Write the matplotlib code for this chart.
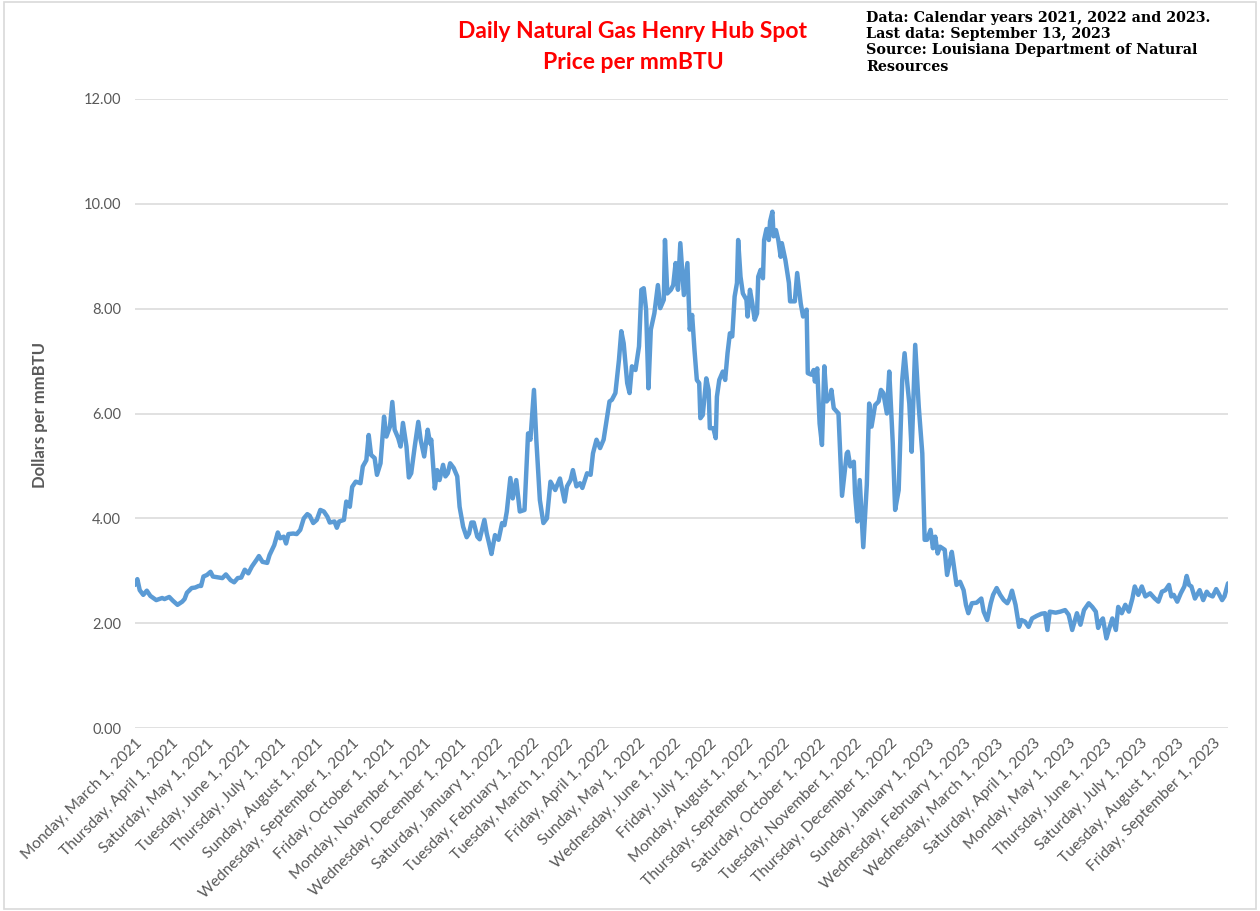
import numpy as np
import pandas as pd
import matplotlib
matplotlib.use("Agg")
import matplotlib.pyplot as plt
from matplotlib.ticker import FormatStrFormatter
from matplotlib.patches import Rectangle

# ---------------- data ----------------
start_date = "2021-03-01"
end_date = "2023-09-13"

# days after start_date
day_offsets = [
    0, 2, 4, 7, 10, 13, 18, 23, 25, 29, 32, 36, 40, 42, 44, 48, 51, 54, 56, 58,
    61, 64, 66, 71, 74, 77, 81, 84, 87, 90, 93, 96, 99, 103, 105, 108, 112, 114, 118, 121,
    123, 126, 128, 130, 134, 137, 140, 143, 146, 148, 151, 154, 157, 160, 163, 165, 169, 171, 173, 177,
    179, 182, 184, 187, 191, 193, 196, 198, 200, 203, 205, 208, 211, 213, 216, 218, 220, 223, 225, 227,
    230, 232, 234, 237, 240, 242, 245, 248, 250, 251, 254, 256, 258, 261, 263, 265, 267, 270, 273, 275,
    278, 281, 283, 285, 287, 290, 292, 296, 298, 300, 302, 305, 308, 311, 313, 315, 318, 320, 323, 326,
    330, 333, 335, 338, 340, 343, 346, 349, 352, 356, 360, 364, 366, 369, 371, 374, 377, 379, 383, 386,
    388, 391, 394, 397, 400, 402, 404, 407, 410, 412, 414, 417, 419, 421, 424, 427, 429, 431, 433, 435,
    437, 440, 443, 445, 448, 449, 451, 454, 456, 458, 460, 462, 465, 468, 470, 472, 474, 476, 478, 479,
    481, 484, 486, 487, 490, 492, 493, 495, 498, 500, 502, 504, 506, 508, 510, 511, 513, 515, 518, 519,
    521, 523, 525, 527, 528, 530, 532, 533, 535, 537, 538, 540, 541, 543, 545, 547, 548, 551, 554, 555,
    559, 561, 564, 566, 569, 570, 573, 575, 576, 578, 580, 582, 584, 586, 589, 590, 592, 596, 599, 603,
    604, 606, 609, 610, 612, 614, 617, 620, 622, 624, 627, 630, 632, 634, 637, 639, 642, 644, 647, 650,
    652, 654, 656, 658, 661, 664, 667, 669, 671, 674, 676, 678, 680, 682, 686, 688, 692, 693, 696, 699,
    702, 704, 706, 709, 713, 717, 719, 722, 725, 727, 730, 733, 736, 739, 741, 743, 746, 749, 751, 754,
    757, 760, 764, 768, 771, 773, 775, 780, 784, 788, 791, 794, 798, 801, 804, 808, 811, 814, 816, 818,
    820, 823, 825, 828, 831, 833, 836, 839, 842, 845, 847, 850, 853, 856, 860, 864, 867, 870, 873, 876,
    878, 880, 883, 886, 889, 891, 893, 895, 898, 902, 905, 908, 910, 913, 916, 918, 921, 923, 926,
]

# dollars per mmBTU
prices = [
    2.73, 2.84, 2.63, 2.54, 2.62, 2.52, 2.44, 2.48, 2.46, 2.50, 2.43, 2.35, 2.41, 2.46, 2.58, 2.67, 2.68, 2.71, 2.71, 2.89,
    2.92, 2.98, 2.89, 2.87, 2.86, 2.93, 2.82, 2.78, 2.86, 2.87, 3.02, 2.95, 3.08, 3.21, 3.28, 3.17, 3.15, 3.30, 3.49, 3.73,
    3.62, 3.65, 3.52, 3.70, 3.71, 3.70, 3.78, 4.00, 4.08, 4.05, 3.91, 3.97, 4.16, 4.13, 4.03, 3.92, 3.94, 3.82, 3.94, 3.97,
    4.32, 4.22, 4.60, 4.70, 4.67, 4.99, 5.11, 5.59, 5.21, 5.15, 4.83, 5.05, 5.94, 5.56, 5.75, 6.22, 5.69, 5.53, 5.37, 5.82,
    5.37, 4.78, 4.86, 5.37, 5.84, 5.50, 5.18, 5.69, 5.43, 5.50, 4.57, 4.92, 4.73, 5.02, 4.80, 4.86, 5.05, 4.96, 4.80, 4.22,
    3.84, 3.64, 3.71, 3.92, 3.92, 3.65, 3.60, 3.97, 3.71, 3.52, 3.32, 3.68, 3.59, 3.91, 3.87, 4.13, 4.77, 4.38, 4.73, 4.13,
    4.16, 5.62, 5.50, 6.45, 5.50, 4.35, 3.91, 4.00, 4.70, 4.54, 4.76, 4.32, 4.61, 4.73, 4.92, 4.61, 4.67, 4.58, 4.86, 4.83,
    5.24, 5.50, 5.34, 5.50, 5.94, 6.23, 6.26, 6.39, 7.02, 7.57, 7.34, 6.58, 6.39, 6.90, 6.83, 7.28, 8.36, 8.39, 7.98, 6.48,
    7.60, 7.91, 8.45, 8.01, 8.17, 9.31, 8.29, 8.36, 8.45, 8.87, 8.36, 9.25, 8.26, 8.87, 7.60, 7.88, 7.21, 6.64, 6.58, 5.91,
    5.97, 6.67, 6.45, 5.72, 5.72, 5.53, 6.32, 6.64, 6.80, 6.64, 7.15, 7.53, 7.47, 8.23, 8.49, 9.31, 8.61, 8.29, 8.17, 7.85,
    8.36, 8.10, 7.79, 7.91, 8.61, 8.74, 8.58, 9.31, 9.52, 9.31, 9.66, 9.85, 9.38, 9.50, 9.31, 8.99, 9.25, 8.93, 8.49, 8.14,
    8.14, 8.68, 8.10, 7.85, 7.98, 6.77, 6.74, 6.83, 6.61, 6.86, 5.81, 5.40, 6.90, 6.23, 6.32, 6.45, 6.10, 6.00, 4.43, 5.24,
    5.27, 4.99, 5.08, 4.48, 3.94, 4.73, 3.45, 4.64, 6.19, 5.75, 6.16, 6.23, 6.45, 6.39, 6.00, 6.80, 5.43, 4.16, 4.54, 6.64,
    7.15, 6.64, 6.19, 5.27, 7.31, 6.13, 5.24, 3.59, 3.59, 3.78, 3.43, 3.65, 3.33, 3.46, 3.40, 2.92, 3.36, 3.21, 2.73, 2.79,
    2.63, 2.35, 2.19, 2.38, 2.39, 2.47, 2.22, 2.06, 2.38, 2.54, 2.67, 2.54, 2.44, 2.38, 2.47, 2.62, 2.35, 1.93, 2.06, 2.03,
    1.93, 2.09, 2.14, 2.18, 2.19, 1.87, 2.22, 2.20, 2.22, 2.25, 2.16, 1.87, 2.19, 1.97, 2.25, 2.38, 2.31, 2.22, 1.91, 2.03,
    2.09, 1.71, 1.87, 2.09, 1.87, 2.31, 2.19, 2.35, 2.22, 2.47, 2.70, 2.54, 2.70, 2.51, 2.57, 2.47, 2.41, 2.60, 2.63, 2.73,
    2.51, 2.54, 2.41, 2.57, 2.70, 2.90, 2.73, 2.70, 2.47, 2.63, 2.44, 2.60, 2.54, 2.51, 2.65, 2.57, 2.44, 2.51, 2.76,
]

y_ticks = [0, 2, 4, 6, 8, 10, 12]
title_text = "Daily Natural Gas Henry Hub Spot\nPrice per mmBTU"
note_text = ("Data: Calendar years 2021, 2022 and 2023.\n"
             "Last data: September 13, 2023\n"
             "Source: Louisiana Department of Natural\n"
             "Resources")
y_label = "Dollars per mmBTU"

# ---------------- figure ----------------
W, H = 1260, 911
fig = plt.figure(figsize=(W / 100, H / 100), dpi=100)
fig.patch.set_facecolor("white")

ax_left, ax_right, ax_top, ax_bot = 135, 1228, 99, 728
ax = fig.add_axes([ax_left / W, 1 - ax_bot / H, (ax_right - ax_left) / W, (ax_bot - ax_top) / H])

dates = pd.Timestamp(start_date) + pd.to_timedelta(day_offsets, unit="D")
ax.plot(dates, prices, color="#5B9BD5", lw=3.2, solid_joinstyle="round", solid_capstyle="round", zorder=3)

ax.set_xlim(pd.Timestamp(start_date), pd.Timestamp(end_date))
ax.set_ylim(0, 12)
ax.set_yticks(y_ticks)
ax.yaxis.set_major_formatter(FormatStrFormatter("%.2f"))
ax.grid(axis="y", color="#D9D9D9", lw=1.1)
ax.grid(axis="x", visible=False)
ax.set_axisbelow(True)
for s in ax.spines.values():
    s.set_visible(False)

tick_dates = pd.date_range(start_date, "2023-09-01", freq="MS")
tick_labels = [f"{d:%A}, {d:%B} {d.day}, {d.year}" for d in tick_dates]
ax.set_xticks(tick_dates)
ax.set_xticklabels(tick_labels, rotation=45, ha="right", va="top", rotation_mode="anchor")

ax.tick_params(axis="both", length=0, colors="#595959")
ax.tick_params(axis="y", pad=10, labelsize=10.5)
ax.tick_params(axis="x", pad=6, labelsize=11.2)
for lab in ax.get_xticklabels() + ax.get_yticklabels():
    lab.set_family("Lato")

fig.text(40 / W, 1 - 415 / H, y_label, rotation=90, ha="center", va="center",
         color="#595959", fontsize=12, fontweight="bold", family="Lato")

fig.text(633 / W, 1 - 47 / H, title_text, ha="center", va="center", color="#FF0000",
         fontsize=16.5, fontweight="bold", family="Lato", linespacing=1.55)

fig.text(866 / W, 1 - 11 / H, note_text, ha="left", va="top", color="black",
         fontsize=10.3, fontweight="bold", family="DejaVu Serif", linespacing=1.2)

# chart area border
fig.patches.append(Rectangle((4 / W, 2 / H), 1 - 8 / W, 1 - 4 / H, transform=fig.transFigure,
                             fill=False, edgecolor="#D9D9D9", lw=1.2))

fig.savefig("out.png", dpi=100, facecolor="white")
